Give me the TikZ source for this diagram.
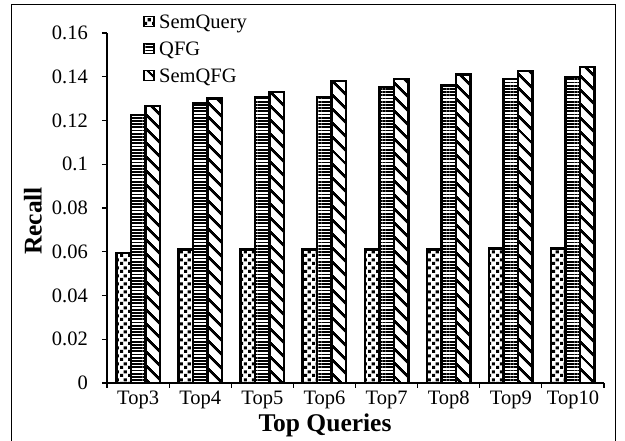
\documentclass[tikz,border=0pt]{standalone}
\usepackage{fontspec}
\setmainfont{Liberation Serif}
\usetikzlibrary{patterns.meta}

% small square dots for the first series
\tikzdeclarepattern{
  name=sqdots,
  type=uncolored,
  bottom left={(0pt,0pt)},
  top right={(8pt,8pt)},
  tile size={(8pt,8pt)},
  code={
    \fill (0pt,0pt) rectangle (3.4pt,3.4pt);
    \fill (4pt,4pt) rectangle (7.4pt,7.4pt);
  }
}

\tikzset{
  bar/.style={draw=black, line width=2.4pt, preaction={fill=white}},
  semquery/.style={bar, pattern=sqdots},
  qfg/.style={bar, pattern={Lines[angle=0,distance=3.2pt,line width=1.8pt]}},
  semqfg/.style={bar, pattern={Lines[angle=-45,distance=10.5pt,line width=3pt]}},
  ticklabel/.style={font=\fontsize{20.5}{24}\selectfont, inner sep=0pt},
  axistitle/.style={font=\fontsize{25.5}{30}\selectfont\bfseries, inner sep=0pt},
}

\begin{document}
\begin{tikzpicture}[x=1pt, y=2187.5pt]
  \useasboundingbox (-107pt,-58pt) rectangle (518pt,383pt);
  % frame
  \draw[line width=1pt] (-95pt,-60pt) |- (508pt,378pt) -- (508pt,-60pt);

  % bars
  \foreach \lab/\a/\b/\c [count=\i] in {
      Top3/0.0595/0.1225/0.1265, Top4/0.061/0.128/0.130,
      Top5/0.061/0.1305/0.133, Top6/0.061/0.1307/0.138,
      Top7/0.061/0.1353/0.139, Top8/0.061/0.136/0.141,
      Top9/0.0615/0.139/0.1425, Top10/0.0615/0.140/0.1445} {
    \pgfmathsetmacro\cx{62.125*(\i-0.5)}
    \draw[semquery] (\cx-21.75,0) rectangle (\cx-7.25,\a);
    \draw[qfg] (\cx-7.25,0) rectangle (\cx+7.25,\b);
    \draw[semqfg] (\cx+7.25,0) rectangle (\cx+21.75,\c);
    \node[ticklabel, anchor=base] (cat\i) at (\cx,-22pt) {\lab};
  }

  % axes
  \draw[line width=1.2pt] (0,0.16) -- (0,0) -- (497,0);
  \foreach \v in {0,0.02,0.04,0.06,0.08,0.1,0.12,0.14,0.16} {
    \draw[line width=1.2pt] (-5,\v) -- (0,\v);
    \node[ticklabel, anchor=east] at (-19,\v) {\v};
  }
  \foreach \k in {0,...,8}
    \draw[line width=1.2pt] (62.125*\k,0) -- (62.125*\k,-5pt);

  \node[axistitle, rotate=90] (ylab) at (-74pt,162pt) {Recall};
  \node[axistitle, anchor=base] (xlab) at (218pt,-49pt) {Top Queries};

  % legend
  \foreach \sty/\name [count=\j] in {semquery/SemQuery, qfg/QFG, semqfg/SemQFG} {
    \draw[\sty, line width=1.8pt] (37pt,{(393.5-27*\j)*1pt}) rectangle +(10pt,-10pt);
    \node[ticklabel, anchor=base west] (leg\j) at (52pt,{(354.5-27*(\j-1))*1pt}) {\name};
  }
\end{tikzpicture}
\end{document}
